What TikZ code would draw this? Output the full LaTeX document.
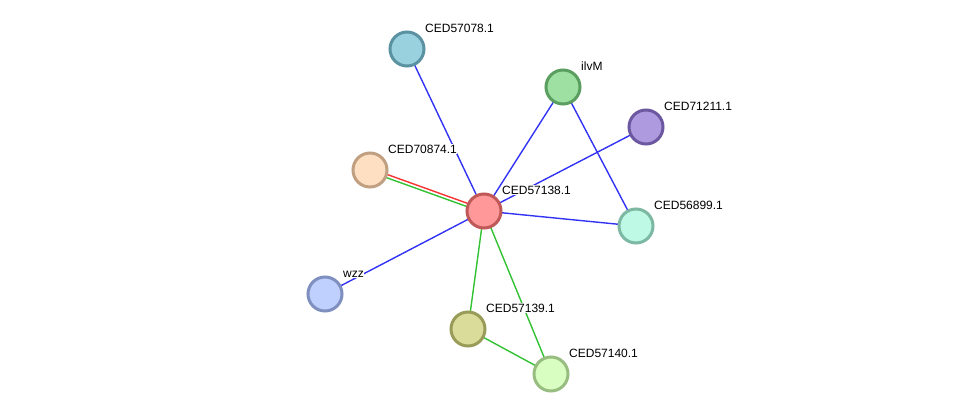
\documentclass[tikz,border=0pt]{standalone}
\usepackage{fontspec}
\setmainfont{Liberation Sans}
\usepackage{tikz}
\usetikzlibrary{positioning,calc,backgrounds}
\definecolor{EdgeBlue}{HTML}{3333F5}
\definecolor{EdgeGreen}{HTML}{33C233}
\definecolor{EdgeRed}{HTML}{F53333}
\tikzset{
  protein/.style={circle, line width=3pt, minimum size=34pt, inner sep=0pt},
  lbl/.style={inner sep=0.5pt, fill=white, font=\fontsize{12}{14}\selectfont, text=black},
  blueedge/.style={line width=1.4pt, draw=EdgeBlue},
  greenedge/.style={line width=1.4pt, draw=EdgeGreen},
  rededge/.style={line width=1.4pt, draw=EdgeRed}
}

\begin{document}
\begin{tikzpicture}[x=1pt, y=-1pt, node distance=3.1pt and 4.4pt]
  \useasboundingbox (0,0) rectangle (975,420);
  \node[protein, fill={rgb,255:red,154;green,209;blue,223}, draw={rgb,255:red,90;green,146;blue,162}] (c78) at (407,49) {};
  \node[protein, fill={rgb,255:red,157;green,224;blue,162}, draw={rgb,255:red,90;green,158;blue,96}] (ilvm) at (563,87) {};
  \node[protein, fill={rgb,255:red,174;green,155;blue,223}, draw={rgb,255:red,108;green,88;blue,160}] (c211) at (646,127) {};
  \node[protein, fill={rgb,255:red,254;green,223;blue,194}, draw={rgb,255:red,192;green,160;blue,128}] (c874) at (370,170) {};
  \node[protein, fill={rgb,255:red,255;green,153;blue,153}, draw={rgb,255:red,192;green,88;blue,88}] (c138) at (484,211) {};
  \node[protein, fill={rgb,255:red,189;green,249;blue,229}, draw={rgb,255:red,124;green,184;blue,162}] (c899) at (636,226) {};
  \node[protein, fill={rgb,255:red,191;green,208;blue,254}, draw={rgb,255:red,127;green,144;blue,192}] (wzz) at (325,294) {};
  \node[protein, fill={rgb,255:red,218;green,221;blue,153}, draw={rgb,255:red,153;green,156;blue,88}] (c139) at (468,329) {};
  \node[protein, fill={rgb,255:red,216;green,254;blue,194}, draw={rgb,255:red,152;green,189;blue,128}] (c140) at (551,374) {};
  \node[lbl, above right=of c78] (l78) {CED57078.1};
  \node[lbl, above right=of ilvm] (lilvm) {ilvM};
  \node[lbl, above right=of c211] (l211) {CED71211.1};
  \node[lbl, above right=of c874] (l874) {CED70874.1};
  \node[lbl, above right=of c138] (l138) {CED57138.1};
  \node[lbl, above right=of c899] (l899) {CED56899.1};
  \node[lbl, above right=of wzz] (lwzz) {wzz};
  \node[lbl, above right=of c139] (l139) {CED57139.1};
  \node[lbl, above right=of c140] (l140) {CED57140.1};
  \begin{scope}[on background layer]
    \fill[white] (0,0) rectangle (975,420);
    \draw[blueedge] (c78.center) -- (c138.center);
    \draw[blueedge] (ilvm.center) -- (c138.center);
    \draw[blueedge] (ilvm.center) -- (c899.center);
    \draw[blueedge] (c211.center) -- (c138.center);
    \draw[blueedge] (c138.center) -- (c899.center);
    \draw[blueedge] (wzz.center) -- (c138.center);
    \draw[rededge] ($(c874.center)+(0.6,-1.5)$) -- ($(c138.center)+(0.6,-1.5)$);
    \draw[greenedge] ($(c874.center)+(-0.6,1.5)$) -- ($(c138.center)+(-0.6,1.5)$);
    \draw[greenedge] (c138.center) -- (c139.center);
    \draw[greenedge] (c138.center) -- (c140.center);
    \draw[greenedge] (c139.center) -- (c140.center);
  \end{scope}
\end{tikzpicture}
\end{document}
